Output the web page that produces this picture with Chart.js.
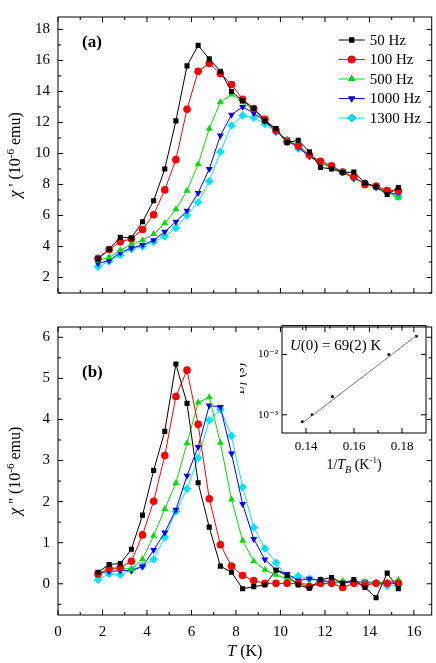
<!DOCTYPE html><html><head><meta charset="utf-8">
<script src="https://cdn.jsdelivr.net/npm/chart.js@4/dist/chart.umd.min.js"></script>
<style>body{margin:0;background:#fff;width:436px;height:663px;position:relative;overflow:hidden}
canvas{position:absolute}</style></head><body>
<canvas id="ca" style="left:0;top:0;width:436px;height:310px" width="436" height="310"></canvas>
<canvas id="cb" style="left:0;top:310px;width:436px;height:353px" width="436" height="353"></canvas>
<canvas id="ci" style="left:240px;top:315px;width:190px;height:160px" width="190" height="160"></canvas>
<script>
const temps=[1.8,2.3,2.8,3.3,3.8,4.3,4.8,5.3,5.8,6.3,6.8,7.3,7.8,8.3,8.8,9.3,9.8,10.3,10.8,11.3,11.8,12.3,12.8,13.3,13.8,14.3,14.8,15.3];
const seriesNames=['50 Hz','100 Hz','500 Hz','1000 Hz','1300 Hz'];
const chiReal50=[3.2,3.83,4.6,4.55,5.6,6.95,9.0,12.1,15.65,16.97,16.1,15.3,14.0,13.4,12.9,12.1,11.6,10.7,10.85,10.1,9.1,9.0,8.77,8.8,8.1,7.85,7.35,7.8];
const chiReal100=[3.24,3.8,4.3,4.5,5.1,6.05,7.65,9.6,12.85,15.3,15.8,15.15,14.45,13.5,12.9,12.2,11.5,10.75,10.5,9.9,9.5,9.2,8.8,8.5,8.0,7.9,7.6,7.6];
const chiReal500=[3.1,3.3,3.75,4.15,4.4,4.8,5.5,6.4,7.6,9.3,11.6,13.3,13.8,13.3,12.8,12.2,11.4,10.9,10.5,9.9,9.4,9.1,8.8,8.4,8.1,7.8,7.5,7.15];
const chiReal1000=[2.9,3.1,3.6,3.9,4.1,4.4,4.95,5.6,6.3,7.45,9.0,11.15,12.5,13.0,12.6,12.1,11.4,10.9,10.4,9.8,9.4,9.1,8.8,8.4,8.1,7.8,7.5,7.35];
const chiReal1300=[2.7,3.05,3.45,3.85,4.0,4.3,4.65,5.2,6.0,6.85,8.2,10.1,11.8,12.45,12.3,11.9,11.4,10.85,10.3,9.9,9.45,9.1,8.8,8.4,8.1,7.85,7.55,7.2];
const chiImag50=[0.28,0.47,0.49,0.84,1.67,2.76,3.71,5.35,4.39,2.46,1.38,0.43,0.28,-0.12,-0.07,-0.03,0.33,0.2,-0.03,-0.11,0.1,0.15,0.01,0.1,-0.09,-0.34,0.26,-0.12];
const chiImag100=[0.24,0.37,0.39,0.55,1.19,2.01,3.12,4.56,5.2,3.88,2.07,0.95,0.43,0.2,0.08,0.01,0.01,0.01,0.01,-0.07,0.01,0.01,-0.09,0.01,-0.03,0.01,0.01,0.01];
const chiImag500=[0.2,0.34,0.39,0.35,0.6,1.17,1.82,2.45,3.42,4.41,4.54,3.43,2.05,1.05,0.55,0.34,0.22,0.12,0.03,-0.02,-0.02,0.01,0.06,0.05,0.05,0.03,0.03,0.1];
const chiImag1000=[0.26,0.3,0.32,0.32,0.42,0.82,1.25,1.8,2.63,3.33,4.34,4.3,3.17,1.94,1.09,0.59,0.34,0.24,0.08,0.12,0.08,0.05,0.03,0.05,0.05,0.02,0.01,0.03];
const chiImag1300=[0.1,0.24,0.22,0.35,0.43,0.59,1.13,1.76,2.31,3.06,3.98,4.24,3.6,2.35,1.37,0.86,0.51,0.16,0.19,0.12,0.08,0.01,0.03,0.03,0.01,0.01,-0.05,-0.05];
const invTB=[0.1385,0.1425,0.151,0.1745,0.186];
const invF=[7.7e-4,1e-3,2e-3,1e-2,2e-2];
const fitX=[0.1385,0.186];
const fitY=[7.3e-4,2.05e-2];
const xTicks=[0,2,4,6,8,10,12,14,16];
const yTicksA=[2,4,6,8,10,12,14,16,18];
const yTicksB=[0,1,2,3,4,5,6];
const insetXTicks=[0.14,0.16,0.18];
const insetYTicks=[1e-3,1e-2];

const colors=['#000000','#ff0000','#00dd00','#0000ff','#00e5ff'];
const styles=['rect','circle','triangle','triangle','rectRot'];
const rots=[0,0,0,180,0];
const radii=[3.6,3.8,4,4,4.3];
const FONT='"Liberation Serif","DejaVu Serif",serif';
Chart.defaults.font.family=FONT;Chart.defaults.color='#000';

function mkSets(arrs){return arrs.map((a,i)=>({label:seriesNames[i],data:temps.map((t,j)=>({x:t,y:a[j]})),borderColor:colors[i],backgroundColor:colors[i],borderWidth:1,pointStyle:styles[i],rotation:rots[i],pointRadius:radii[i],pointBorderWidth:0,tension:0}));}

function mixed(ctx,parts,x,y,align){ // parts: [text,italic,size,dy]
 let w=0;parts.forEach(p=>{ctx.font=(p[1]?'italic ':'')+p[2]+'px '+FONT;w+=ctx.measureText(p[0]).width;});
 let cx=align==='center'?x-w/2:x;parts.forEach(p=>{ctx.font=(p[1]?'italic ':'')+p[2]+'px '+FONT;ctx.fillText(p[0],cx,y+(p[3]||0));cx+=ctx.measureText(p[0]).width;});}

const inTicks={id:'inTicks',afterDraw(c,a,o){const ctx=c.ctx,ca=c.chartArea;ctx.save();ctx.strokeStyle='#000';ctx.lineWidth=1;
 ctx.strokeRect(ca.left,ca.top,ca.right-ca.left,ca.bottom-ca.top);
 const xs=c.scales.x,ys=c.scales.y;
 (o.xMinor||[]).forEach(v=>{const p=xs.getPixelForValue(v);const L=o.xMaj.includes(v)?5:3;ctx.beginPath();ctx.moveTo(p,ca.bottom);ctx.lineTo(p,ca.bottom-L);ctx.moveTo(p,ca.top);ctx.lineTo(p,ca.top+L);ctx.stroke();});
 (o.yMinor||[]).forEach(v=>{const p=ys.getPixelForValue(v);if(p<ca.top-0.5||p>ca.bottom+0.5)return;const L=o.yMaj.includes(v)?5:3;ctx.beginPath();ctx.moveTo(ca.left,p);ctx.lineTo(ca.left+L,p);ctx.moveTo(ca.right,p);ctx.lineTo(ca.right-L,p);ctx.stroke();});
 ctx.fillStyle='#000';ctx.textBaseline='alphabetic';
 if(o.label){ctx.font='bold 17px '+FONT;ctx.fillText(o.label,ca.left+24,ca.top+o.labelY);}
 if(o.legend){c.data.datasets.forEach((d,i)=>{const y=ca.top+23+i*19.5,x0=ca.right-93;ctx.strokeStyle=d.borderColor;ctx.beginPath();ctx.moveTo(x0,y);ctx.lineTo(x0+26,y);ctx.stroke();
  Chart.helpers.drawPoint(ctx,{pointStyle:d.pointStyle,rotation:d.rotation,radius:d.pointRadius,borderWidth:0},x0+13,y);ctx.fillStyle=d.backgroundColor;ctx.fill();
  ctx.fillStyle='#000';ctx.font='15px '+FONT;ctx.textBaseline='middle';ctx.fillText(d.label,x0+31,y+1);});ctx.textBaseline='alphabetic';}
 if(o.yTitle){ctx.save();ctx.translate(ca.left-38,(ca.top+ca.bottom)/2);ctx.rotate(-Math.PI/2);mixed(ctx,o.yTitle,0,0,'center');ctx.restore();}
 if(o.xTitle){mixed(ctx,o.xTitle,(ca.left+ca.right)/2,ca.bottom+o.xTitleDy,'center');}
 if(o.text){mixed(ctx,[['U',true,15],['(0) = 69(2) K',false,15]],ca.left+8,ca.top+24);}
 ctx.restore();}};

const range=(a,b,s)=>{const r=[];for(let v=a;v<=b+1e-9;v+=s)r.push(+v.toFixed(4));return r;};
function panelOpts(ymin,ymax,yt,showX){return{responsive:false,animation:false,layout:{padding:{top:0,right:0,bottom:0,left:0}},
 plugins:{legend:{display:false},tooltip:{enabled:false}},
 scales:{x:{type:'linear',min:0,max:16.8,grid:{display:false,drawTicks:false},border:{display:false},
  afterBuildTicks:s=>{s.ticks=xTicks.map(v=>({value:v}));},
  ticks:{display:showX,padding:8,font:{size:15},autoSkip:false,maxRotation:0},afterFit:s=>{if(!showX)s.height=0;}},
 y:{min:ymin,max:ymax,grid:{display:false,drawTicks:false},border:{display:false},afterBuildTicks:s=>{s.ticks=yt.map(v=>({value:v}));},
  ticks:{padding:8,font:{size:15},autoSkip:false},afterFit:s=>{s.width=55;}}}};}

function fit(ch,L,T,R,B){for(let k=0;k<3;k++){const ca=ch.chartArea,p=ch.options.layout.padding;
 p.left+=L-ca.left;p.top+=T-ca.top;p.right+=(ch.width-R)-(ch.width-ca.right);p.bottom+=(ch.height-B)-(ch.height-ca.bottom);
 p.right=(ch.width-R)-(ch.width-ca.right)+p.right; p.right=p.right; ch.update();}}
function fit2(ch,L,T,R,B){for(let k=0;k<4;k++){const ca=ch.chartArea,p=ch.options.layout.padding;
 p.left+=L-ca.left;p.top+=T-ca.top;p.right+=ca.right-R;p.bottom+=ca.bottom-B;ch.update();}}

const oa=panelOpts(1,18.8,yTicksA,false);
oa.plugins.inTicks={xMaj:xTicks,xMinor:range(0,16,1),yMaj:yTicksA,yMinor:range(1,18,1),label:'(a)',labelY:30,legend:true,
 yTitle:[['χ',true,17],[' \' (10',false,16],['-6',false,11,-6],[' emu)',false,16]]};
const ca=new Chart(document.getElementById('ca'),{type:'line',data:{datasets:mkSets([chiReal50,chiReal100,chiReal500,chiReal1000,chiReal1300])},options:oa,plugins:[inTicks]});
fit2(ca,58,3,433,304);

const ob=panelOpts(-0.76,6.25,yTicksB,true);
ob.plugins.inTicks={xMaj:xTicks,xMinor:range(0,16,1),yMaj:yTicksB,yMinor:range(-0.5,6,0.5),label:'(b)',labelY:50,
 yTitle:[['χ',true,17],[' \'\' (10',false,16],['-6',false,11,-6],[' emu)',false,16]],xTitle:[['T',true,16],[' (K)',false,16]],xTitleDy:41};
const cb=new Chart(document.getElementById('cb'),{type:'line',data:{datasets:mkSets([chiImag50,chiImag100,chiImag500,chiImag1000,chiImag1300])},options:ob,plugins:[inTicks]});
fit2(cb,58,2,433,305);

const ci=new Chart(document.getElementById('ci'),{type:'scatter',data:{datasets:[
 {data:fitX.map((x,i)=>({x,y:fitY[i]})),showLine:true,borderColor:'#777',borderWidth:1,pointRadius:0},
 {data:invTB.map((x,i)=>({x,y:invF[i]})),pointStyle:'rect',pointRadius:1.8,backgroundColor:'#000',borderColor:'#000',pointBorderWidth:0}]},
 options:{responsive:false,animation:false,layout:{padding:{top:0,right:0,bottom:0,left:0}},plugins:{legend:{display:false},tooltip:{enabled:false},
  inTicks:{xMaj:insetXTicks,xMinor:[0.14,0.15,0.16,0.17,0.18],yMaj:insetYTicks,yMinor:insetYTicks,text:true,
   xTitle:[['1/',false,14],['T',true,14],['B',true,10,4],[' (K',false,14],['-1',false,9,-6],[')',false,14]],xTitleDy:36,
   yTitle:[['1/',false,14],['f',true,14],[' (s)',false,14]]}},
 scales:{x:{type:'linear',min:0.13,max:0.19,grid:{display:false,drawTicks:false},border:{display:false},afterBuildTicks:s=>{s.ticks=insetXTicks.map(v=>({value:v}));},
   ticks:{padding:6,font:{size:13},autoSkip:false,maxRotation:0,callback:v=>v.toFixed(2)}},
  y:{type:'logarithmic',min:5e-4,max:3e-2,grid:{display:false,drawTicks:false},border:{display:false},afterBuildTicks:s=>{s.ticks=insetYTicks.map(v=>({value:v}));},
   ticks:{padding:4,font:{size:11},autoSkip:false,callback:v=>v<5e-3?'10⁻³':'10⁻²'},afterFit:s=>{s.width=30;}}}},plugins:[inTicks]});
fit2(ci,42,2,187,118);
</script></body></html>
